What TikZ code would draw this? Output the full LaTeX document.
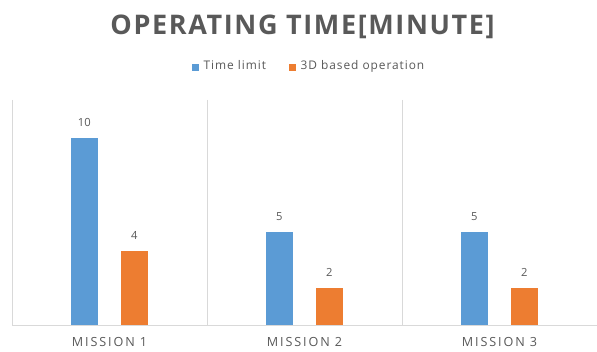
\documentclass[tikz,border=0pt]{standalone}
\usepackage{fontspec}
\setmainfont{Open Sans}
\newfontfamily\titlefont[LetterSpace=6]{Open Sans}
\newfontfamily\legfont[LetterSpace=8]{Open Sans}
\newfontfamily\catfont[LetterSpace=15]{Open Sans}
\definecolor{txtgray}{HTML}{595959}
\definecolor{gridgray}{HTML}{D9D9D9}
\definecolor{barblue}{HTML}{5B9BD5}
\definecolor{barorange}{HTML}{ED7D31}
\begin{document}
\begin{tikzpicture}[x=1pt,y=-1pt,
  txt/.style={inner sep=0pt, text=txtgray},
  grid/.style={draw=gridgray, line width=1pt},
  lbl/.style={txt, anchor=base, font=\fontsize{11.2pt}{12pt}\selectfont},
  cat/.style={txt, anchor=base, font=\catfont\fontsize{12.6pt}{14pt}\selectfont},
  leg/.style={txt, anchor=base west, font=\legfont\fontsize{11.9pt}{13pt}\selectfont}]
\useasboundingbox (0,0) rectangle (597,352);
\fill[white] (0,0) rectangle (597,352);
\node[txt, anchor=base, font=\titlefont\bfseries\fontsize{27pt}{30pt}\selectfont] (title) at (302.5,34.5) {OPERATING TIME[MINUTE]};
% legend
\fill[barblue] (192,64.5) rectangle (199,71.5);
\node[leg] (legA) at (203.5,70) {Time limit};
\fill[barorange] (289,64.5) rectangle (296,71.5);
\node[leg] (legB) at (300.5,70) {3D based operation};
% grid
\foreach \x in {12,207,402} \draw[grid] (\x,100) -- (\x,326);
\draw[grid] (12,326) -- (597,326);
% bars
\foreach \c/\a/\b/\n [count=\i] in {109.5/10/4/1, 304.5/5/2/2, 499.5/5/2/3} {
  \fill[barblue] (\c-38.5,325.5) rectangle (\c-12,{326-18.8*\a});
  \fill[barorange] (\c+11.5,325.5) rectangle (\c+38,{326-18.8*\b});
  \node[lbl] (va\i) at (\c-25.25,{326-18.8*\a-11.5}) {\a};
  \node[lbl] (vb\i) at (\c+24.75,{326-18.8*\b-11.5}) {\b};
  \node[cat] (cat\i) at (\c,347) {MISSION \n};
}
\end{tikzpicture}
\end{document}
